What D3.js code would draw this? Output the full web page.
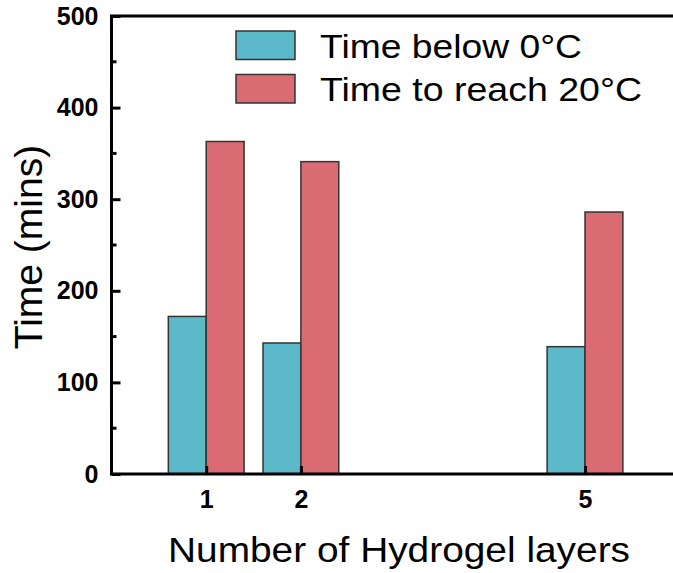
<!DOCTYPE html>
<html>
<head>
<meta charset="utf-8">
<script src="https://cdn.jsdelivr.net/npm/d3@7"></script>
<style>
  html, body { margin: 0; padding: 0; background: #fff; }
  svg { display: block; font-family: "Liberation Sans", Arial, sans-serif; }
</style>
</head>
<body>
<svg id="chart" width="673" height="573"></svg>
<script>
// Hydrogel layer counts on the x axis
const layers = [1, 2, 5];
// Minutes spent below 0 °C and minutes needed to warm back up to 20 °C
const timeBelowZero = [172, 143, 139];
const timeToReach20 = [363, 341, 286];
const seriesNames = ["Time below 0°C", "Time to reach 20°C"];
const seriesColors = ["#5CB9C9", "#DA6B73"];
const yTicks = [0, 100, 200, 300, 400, 500];
const yMinorTicks = [50, 150, 250, 350, 450];

(function draw() {
  const svg = d3.select("#chart");
  const plotLeft = 111.5, plotRight = 679.7, plotTop = 16, plotBottom = 474;

  const x = d3.scaleLinear().domain([0, 6]).range([plotLeft, plotRight]);
  const y = d3.scaleLinear().domain([0, 500]).range([plotBottom, plotTop]);
  const barW = 0.4;

  const rows = layers.map((l, i) => ({ l, v: [timeBelowZero[i], timeToReach20[i]] }));

  // bars: first series sits left of the tick, second series right of it
  const g = svg.append("g");
  rows.forEach(r => {
    r.v.forEach((val, s) => {
      const x0 = s === 0 ? r.l - barW : r.l;
      g.append("rect")
        .attr("x", x(x0))
        .attr("y", y(val))
        .attr("width", x(x0 + barW) - x(x0))
        .attr("height", y(0) - y(val))
        .attr("fill", seriesColors[s])
        .attr("stroke", "#333")
        .attr("stroke-width", 1.5);
    });
  });

  // y axis with inward ticks
  const yAxis = d3.axisLeft(y).tickValues(yTicks).tickSize(-9).tickPadding(13).tickFormat(d3.format("d"));
  const ya = svg.append("g").attr("transform", `translate(${plotLeft},0)`).call(yAxis);
  ya.selectAll("text").attr("font-size", 25).attr("font-weight", "bold").attr("fill", "#000")
    .attr("font-family", "Liberation Sans, Arial, sans-serif");
  ya.selectAll(".tick line").attr("stroke", "#000").attr("stroke-width", 3);
  ya.select(".domain").remove();
  svg.append("g").selectAll("line").data(yMinorTicks).join("line")
    .attr("x1", plotLeft).attr("x2", plotLeft + 5)
    .attr("y1", d => y(d)).attr("y2", d => y(d))
    .attr("stroke", "#000").attr("stroke-width", 3);

  // x axis with inward ticks at the layer counts
  const xAxis = d3.axisBottom(x).tickValues(layers).tickSize(-8).tickPadding(16).tickFormat(d3.format("d"));
  const xa = svg.append("g").attr("transform", `translate(0,${plotBottom})`).call(xAxis);
  xa.selectAll("text").attr("font-size", 25).attr("font-weight", "bold").attr("fill", "#000")
    .attr("font-family", "Liberation Sans, Arial, sans-serif");
  xa.selectAll(".tick line").attr("stroke", "#000").attr("stroke-width", 3);
  xa.select(".domain").remove();

  // frame: left, bottom and top edges
  svg.append("path")
    .attr("d", `M${plotRight},${plotTop}H${plotLeft}V${plotBottom}H${plotRight}`)
    .attr("fill", "none").attr("stroke", "#000").attr("stroke-width", 3)
    .attr("stroke-linecap", "square");

  // axis titles
  svg.append("text")
    .attr("transform", `translate(42,${(plotTop + plotBottom) / 2 + 2}) rotate(-90)`)
    .attr("text-anchor", "middle")
    .attr("font-size", 39)
    .attr("fill", "#000")
    .text("Time (mins)");

  svg.append("text")
    .attr("x", 168).attr("y", 562)
    .attr("font-size", 35)
    .attr("textLength", 462)
    .attr("lengthAdjust", "spacingAndGlyphs")
    .attr("fill", "#000")
    .text("Number of Hydrogel layers");

  // legend
  const legend = svg.append("g");
  const legendRows = [
    { name: seriesNames[0], color: seriesColors[0], y0: 31, len: 262 },
    { name: seriesNames[1], color: seriesColors[1], y0: 74.5, len: 322 }
  ];
  legendRows.forEach(d => {
    legend.append("rect")
      .attr("x", 236).attr("y", d.y0).attr("width", 59).attr("height", 28.5)
      .attr("fill", d.color).attr("stroke", "#333").attr("stroke-width", 1.5);
    legend.append("text")
      .attr("x", 320).attr("y", d.y0 + 26.5)
      .attr("font-size", 34)
      .attr("textLength", d.len)
      .attr("lengthAdjust", "spacingAndGlyphs")
      .attr("fill", "#000")
      .text(d.name);
  });
})();
</script>
</body>
</html>
